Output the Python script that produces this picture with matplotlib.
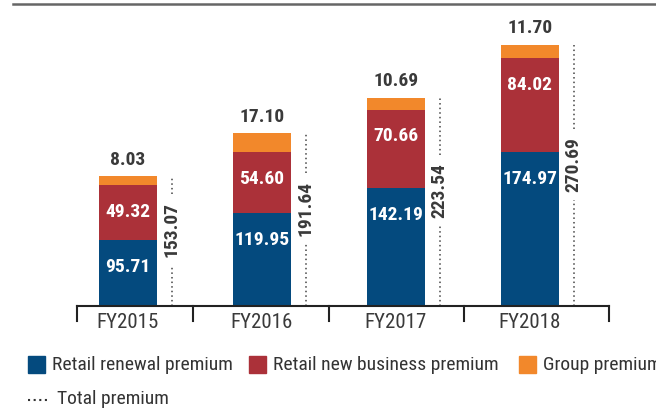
import numpy as np
import matplotlib
matplotlib.use("Agg")
from matplotlib import pyplot as plt
from matplotlib import font_manager as fm
from matplotlib.patches import Rectangle
from matplotlib.lines import Line2D

years = ['FY2015', 'FY2016', 'FY2017', 'FY2018']
renewal = [95.71, 119.95, 142.19, 174.97]
new_business = [49.32, 54.60, 70.66, 84.02]
group = [8.03, 17.10, 10.69, 11.70]
total = [153.07, 191.64, 223.54, 270.69]

blue = '#044a7e'
red = '#ab3139'
orange = '#f2882b'
txt = '#3a3a3a'


# pick a condensed face with static regular + bold files
def pick_font():
    cands = ['Roboto Condensed', 'Liberation Sans Narrow', 'Archivo Narrow', 'PT Sans Narrow',
             'Fira Sans Condensed', 'IBM Plex Sans Condensed', 'Barlow Semi Condensed',
             'Encode Sans Condensed', 'Asap Condensed', 'Saira SemiCondensed']
    fl = fm.fontManager.ttflist
    for c in cands:
        reg = [f for f in fl if f.name == c and f.style == 'normal' and f.weight == 400 and '[' not in f.fname]
        bold = [f for f in fl if f.name == c and f.style == 'normal' and f.weight == 700 and '[' not in f.fname]
        if reg and bold:
            return c, reg[0].fname, bold[0].fname
    return 'Liberation Sans', None, None

fam, freg, fbold = pick_font()
if freg:
    FR = fm.FontProperties(fname=freg)
    FB = fm.FontProperties(fname=fbold)
else:
    FR = fm.FontProperties(family='Liberation Sans')
    FB = fm.FontProperties(family='Liberation Sans', weight='bold')

W, H = 656, 411
fig = plt.figure(figsize=(W / 100, H / 100), dpi=100)
ax = fig.add_axes([77 / W, (H - 306) / H, 532 / W, 301.5 / H])
ymin, ymax = 36.5, 307.2
ax.set_xlim(-0.38, 3.59)
ax.set_ylim(ymin, ymax)

x = np.arange(len(years))
bw = 0.433
b1 = np.array(renewal)
b2 = b1 + np.array(new_business)
ax.bar(x, b1 - ymin, bw, bottom=ymin, color=blue)
ax.bar(x, new_business, bw, bottom=b1, color=red)
ax.bar(x, group, bw, bottom=b2, color=orange)

for i in range(len(years)):
    ax.text(x[i], renewal[i] - 24, f'{renewal[i]:.2f}', ha='center', va='center',
            color='white', fontproperties=FB, fontsize=14)
    ax.text(x[i], b2[i] - 24, f'{new_business[i]:.2f}', ha='center', va='center',
            color='white', fontproperties=FB, fontsize=14)
    ax.annotate(f'{group[i]:.2f}', (x[i], total[i]), xytext=(0, 12),
                textcoords='offset points', ha='center', va='center',
                color=txt, fontproperties=FB, fontsize=14)
    # dotted total line with gap for the label
    xd = x[i] + bw / 2 + 0.11
    mid = (ymin + total[i]) / 2 + 10
    gap = 32
    ax.vlines(xd, ymin, mid - gap, colors='#444444', linestyles=(0, (1, 2)), lw=1.1)
    ax.vlines(xd, mid + gap, total[i], colors='#444444', linestyles=(0, (1, 2)), lw=1.1)
    ax.text(xd, mid, f'{total[i]:.2f}', rotation=90, ha='center', va='center',
            color=txt, fontproperties=FB, fontsize=14)

for s in ['top', 'right', 'left']:
    ax.spines[s].set_visible(False)
ax.spines['bottom'].set_linewidth(1.5)
ax.spines['bottom'].set_color('#222222')
ax.set_yticks([])
ax.set_xticks(x)
ax.set_xticklabels(years, fontproperties=FR, fontsize=15, color=txt)
ax.tick_params(axis='x', length=0, pad=5)
for b in [-0.38, 0.485, 1.5, 2.51, 3.59]:
    ax.plot([b, b], [0, -0.05], transform=ax.get_xaxis_transform(), color='#222222',
            lw=1.5, clip_on=False)

# top rule
fig.add_artist(Line2D([13 / W, 1], [1 - 4.5 / H, 1 - 4.5 / H], color='#666666', lw=1.8))

# legend
items = [(28, blue, 'Retail renewal premium'),
         (249, red, 'Retail new business premium'),
         (519, orange, 'Group premium')]
for px, c, lab in items:
    fig.add_artist(Rectangle((px / W, 1 - 373 / H), 17 / W, 17 / H, color=c))
    fig.text((px + 24) / W, 1 - 365 / H, lab, fontproperties=FR, fontsize=14,
             color='#333333', va='center')
fig.add_artist(Line2D([28 / W, 48 / W], [1 - 400 / H, 1 - 400 / H], color='#333333',
                      lw=1.5, linestyle=(0, (1, 1.7))))
fig.text(57 / W, 1 - 399 / H, 'Total premium', fontproperties=FR, fontsize=14,
         color='#333333', va='center')

fig.savefig('out.png', dpi=100)
